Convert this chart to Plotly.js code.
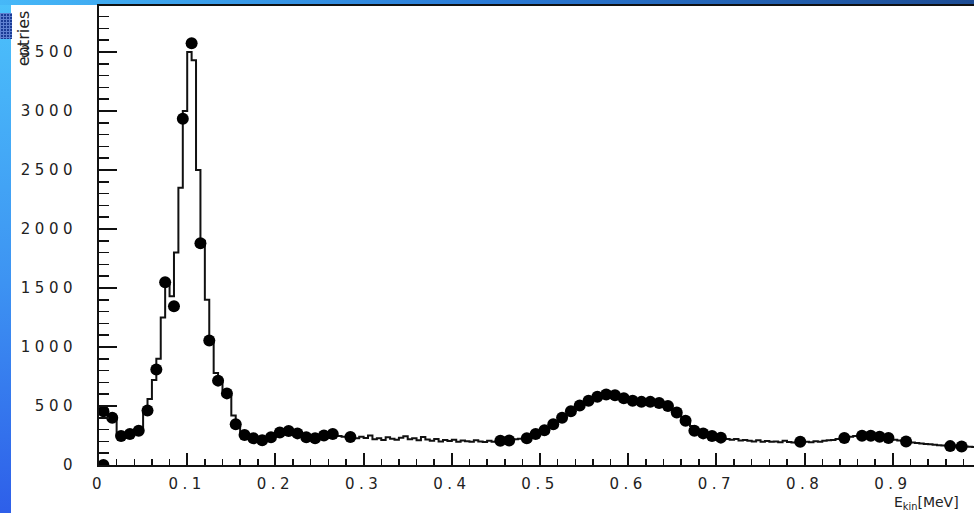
<!DOCTYPE html>
<html>
<head>
<meta charset="utf-8">
<script src="https://cdn.plot.ly/plotly-3.0.1.min.js"></script>
<style>
  html, body { margin: 0; padding: 0; background: #ffffff; width: 974px; height: 513px; overflow: hidden; }
  #sideBar { position: absolute; left: 0; top: 0; width: 11px; height: 513px;
             background: linear-gradient(to bottom, #4cc2fb 0%, #3d93f2 55%, #2e5fe9 100%); }
  #topBar  { position: absolute; left: 0; top: 0; width: 974px; height: 5px;
             background: linear-gradient(to right, #46b8f8 0%, #2a7ad6 50%, #1d4c94 100%); }
  #gridIcon { position: absolute; left: 0; top: 13px; width: 12px; height: 26px; background-color: #1b3c96;
              background-image: repeating-linear-gradient(to right, #5f80d0 0 1px, transparent 1px 3px),
                                repeating-linear-gradient(to bottom, #5f80d0 0 1px, transparent 1px 3px); }
  #chart { position: absolute; left: 0; top: 0; width: 974px; height: 513px; }
  .xtick text, .ytick text { letter-spacing: 4.5px; }
</style>
</head>
<body>
<div id="sideBar"></div>
<div id="topBar"></div>
<div id="gridIcon"></div>
<div id="chart"></div>
<script>
// Kinetic energy spectrum: fine-binned histogram (step line) and measured points.
const BIN_WIDTH = 0.005; // MeV

// histogram contents, one value per 0.005 MeV bin starting at 0
const histCounts = [
  440, 470, 430, 395, 255, 240, 255, 262, 268, 285,
  445, 560, 720, 900, 1250, 1530, 1430, 1800, 2350, 3000,
  3500, 3430, 2500, 1900, 1400, 1050, 780, 700, 636, 590,
  420, 330, 268, 250, 232, 222, 212, 205, 222, 242,
  265, 282, 290, 286, 272, 255, 236, 226, 220, 230,
  246, 256, 262, 256, 246, 240, 238, 232, 226, 240,
  228, 250, 218, 226, 212, 236, 222, 214, 230, 244,
  218, 226, 210, 238, 216, 206, 220, 200, 212, 204,
  214, 198, 208, 202, 196, 210, 200, 194, 206, 198,
  205, 210, 214, 208, 218, 222, 228, 232, 248, 262,
  280, 300, 320, 345, 375, 405, 435, 465, 495, 520,
  540, 555, 572, 585, 598, 602, 600, 592, 580, 565,
  550, 540, 538, 540, 535, 528, 525, 515, 505, 490,
  465, 430, 400, 370, 330, 285, 270, 258, 248, 238,
  232, 225, 220, 214, 220, 208, 212, 205, 200, 210,
  198, 204, 196, 200, 192, 205, 195, 190, 198, 200,
  196, 192, 202, 198, 205, 210, 212, 220, 226, 232,
  240, 246, 250, 252, 250, 248, 245, 238, 230, 222,
  215, 208, 202, 196, 190, 186, 182, 178, 175, 172,
  168, 165, 162, 160, 158, 160, 156, 155, 152, 150
];

// measured points (energy in MeV, entries)
const dotE = [
  0.005, 0.005, 0.015, 0.025, 0.035, 0.045, 0.055, 0.065, 0.075, 0.085,
  0.095, 0.105, 0.115, 0.125, 0.135, 0.145, 0.155, 0.165, 0.175, 0.185,
  0.195, 0.205, 0.215, 0.225, 0.235, 0.245, 0.255, 0.265, 0.285,
  0.455, 0.465, 0.485, 0.495, 0.505, 0.515, 0.525, 0.535, 0.545, 0.555,
  0.565, 0.575, 0.585, 0.595, 0.605, 0.615, 0.625, 0.635, 0.645, 0.655,
  0.665, 0.675, 0.685, 0.695, 0.705,
  0.795, 0.845, 0.865, 0.875, 0.885, 0.895, 0.915, 0.965, 0.978
];
const dotCounts = [
  0, 455, 400, 246, 262, 290, 462, 810, 1548, 1345,
  2935, 3575, 1880, 1055, 715, 607, 345, 255, 226, 210,
  235, 275, 288, 268, 235, 226, 250, 262, 238,
  205, 208, 226, 262, 295, 345, 400, 455, 505, 545,
  578, 598, 592, 565, 545, 535, 535, 525, 500, 445,
  375, 290, 268, 245, 232,
  198, 228, 248, 248, 240, 228, 200, 160, 157
];

const xTickVals = [0, 0.1, 0.2, 0.3, 0.4, 0.5, 0.6, 0.7, 0.8, 0.9];
const xTickText = ['0', '0.1', '0.2', '0.3', '0.4', '0.5', '0.6', '0.7', '0.8', '0.9'];
const yTickVals = [0, 500, 1000, 1500, 2000, 2500, 3000, 3500];
const yTickText = ['0', '500', '1000', '1500', '2000', '2500', '3000', '3500'];

// step outline: left bin edges, closed at the last upper edge
const stepX = histCounts.map((_, i) => +(i * BIN_WIDTH).toFixed(4));
stepX.push(+(histCounts.length * BIN_WIDTH).toFixed(4));
const stepY = histCounts.concat([histCounts[histCounts.length - 1]]);

const ink = '#111111';
const tickFont = { family: 'DejaVu Sans, sans-serif', size: 15, color: '#222222' };

const traces = [
  {
    type: 'scatter', mode: 'lines', x: stepX, y: stepY,
    line: { shape: 'hv', color: ink, width: 2 },
    hoverinfo: 'skip', showlegend: false
  },
  {
    type: 'scatter', mode: 'markers', x: dotE, y: dotCounts,
    marker: { symbol: 'circle', size: 12, color: '#000000', line: { width: 0 } },
    showlegend: false
  }
];

const layout = {
  width: 974, height: 513,
  margin: { l: 99, r: 0, t: 6, b: 48, pad: 0 },
  paper_bgcolor: 'rgba(0,0,0,0)',
  plot_bgcolor: '#ffffff',
  showlegend: false,
  xaxis: {
    range: [0, 0.992], tickmode: 'array', tickvals: xTickVals, ticktext: xTickText,
    ticks: 'inside', ticklen: 12, tickwidth: 2, tickcolor: ink,
    minor: { dtick: 0.02, tick0: 0, ticks: 'inside', ticklen: 6, tickwidth: 1.5, tickcolor: ink, showgrid: false },
    showline: true, linewidth: 2, linecolor: ink, mirror: true,
    showgrid: false, zeroline: false, tickfont: tickFont, ticklabelstandoff: 4
  },
  yaxis: {
    range: [0, 3890], tickmode: 'array', tickvals: yTickVals, ticktext: yTickText,
    ticks: 'inside', ticklen: 18, tickwidth: 2, tickcolor: ink,
    minor: { dtick: 100, tick0: 0, ticks: 'inside', ticklen: 10, tickwidth: 1.5, tickcolor: ink, showgrid: false },
    showline: true, linewidth: 2, linecolor: ink,
    showgrid: false, zeroline: false, tickfont: tickFont, ticklabelstandoff: 17
  },
  annotations: [
    {
      text: 'entries', textangle: -90, showarrow: false,
      xref: 'paper', yref: 'paper', x: -0.087, y: 0.994, xanchor: 'center', yanchor: 'top',
      font: { family: 'DejaVu Sans, sans-serif', size: 16, color: '#222222' }
    },
    {
      text: 'E<sub>kin</sub>[MeV]', showarrow: false,
      xref: 'paper', yref: 'paper', x: 0.906, y: -0.082, xanchor: 'left', yanchor: 'middle',
      font: { family: 'DejaVu Sans, sans-serif', size: 14, color: '#222222' }
    }
  ]
};

Plotly.newPlot('chart', traces, layout, { staticPlot: true, displayModeBar: false });
</script>
</body>
</html>
